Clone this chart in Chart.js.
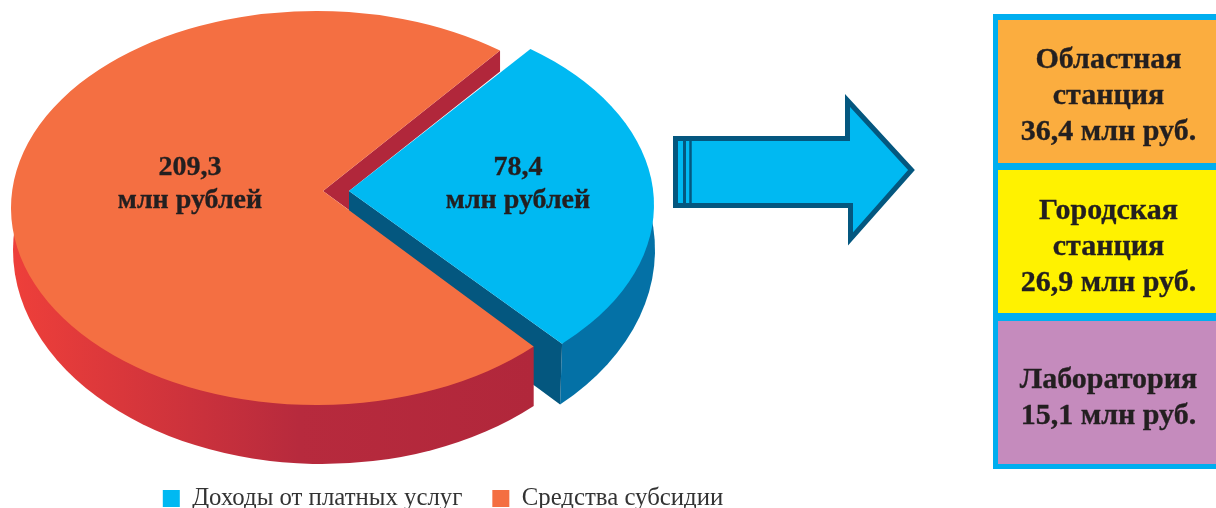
<!DOCTYPE html>
<html lang="ru">
<head>
<meta charset="utf-8">
<script src="https://cdn.jsdelivr.net/npm/chart.js@4"></script>
<style>
html,body{margin:0;padding:0;background:#fff;width:1216px;height:508px;overflow:hidden}
#pie{position:absolute;left:0;top:0}
#arrow{position:absolute;left:0;top:0}
.frame{position:absolute;left:993px;top:14px;width:240px;height:455px;background:#00aeef}
.cell{position:absolute;left:998px;width:222px}
.line{position:absolute;left:980px;width:257px;text-align:center;font:bold 30px "Liberation Serif",serif;color:#231f20;-webkit-text-stroke:.35px #231f20;line-height:36px;height:36px;white-space:nowrap}
</style>
</head>
<body>
<div style="position:absolute;left:0;top:0;width:886px;height:508px"><canvas id="pie" width="886" height="508"></canvas></div>
<svg id="arrow" width="1216" height="508">
<polygon points="675.5,138.5 847.5,138.5 847.5,100.5 911.5,170 850.5,239 850.5,205.5 675.5,205.5" fill="#00b9f2" stroke="#04577f" stroke-width="5"/>
<line x1="684.5" y1="138" x2="684.5" y2="206" stroke="#04577f" stroke-width="3"/>
<line x1="690.5" y1="138" x2="690.5" y2="206" stroke="#04577f" stroke-width="2.5"/>
</svg>
<div class="frame"></div>
<div class="cell" style="top:20px;height:143px;background:#fbad3f"></div>
<div class="cell" style="top:170px;height:143px;background:#fff200"></div>
<div class="cell" style="top:321px;height:143px;background:#c58bbd"></div>
<div id="lines"></div>
<script>
const categories = ['Доходы от платных услуг', 'Средства субсидии'];
const values = [78.4, 209.3];
const sliceColors = ['#00b9f2', '#f46f42'];
const unitLabel = 'млн рублей';
const stationNames = [['Областная', 'станция'], ['Городская', 'станция'], ['Лаборатория']];
const stationValues = ['36,4 млн руб.', '26,9 млн руб.', '15,1 млн руб.'];
const stationLineTops = [[40, 76, 112], [191, 227, 263], [360, 396]];

const host = document.getElementById('lines');
stationNames.forEach((names, i) => {
  names.concat(stationValues[i]).forEach((t, j) => {
    const d = document.createElement('div');
    d.className = 'line';
    d.style.top = stationLineTops[i][j] + 'px';
    d.textContent = t;
    host.appendChild(d);
  });
});

/* projection of the flat pie onto the tilted disc */
const blueTop = {cx:341, cy:205, rx:313, ry:196, a:-0.077, ax:349, ay:191};
const orangeTop = {cx:316.5, cy:208, rx:305.5, ry:197, a:-0.086, ax:323, ay:191};
const blueBase = {cx:347, cy:250, rx:308, ry:214};
const orangeBase = {cx:322, cy:250, rx:309, ry:214};
function proj(e, t) {
  const s = Math.sin(t), c = Math.cos(t), d = 1 + e.a * s;
  const x = c * Math.sqrt(1 - e.a * e.a) / d, y = (s + e.a) / d;
  return {ang: Math.atan2(y, x), x: e.cx + x * e.rx, y: e.cy + y * e.ry};
}
function face(ctx, e, a0, a1, col) {
  const p = proj(e, a0), q = proj(e, a1);
  let end = q.ang;
  while (end < p.ang) end += Math.PI * 2;
  ctx.beginPath();
  ctx.moveTo(e.ax, e.ay);
  ctx.lineTo(p.x, p.y);
  ctx.ellipse(e.cx, e.cy, e.rx, e.ry, 0, p.ang, end, false);
  ctx.closePath();
  ctx.fillStyle = col;
  ctx.fill();
}
function baseAngle(b, x) { return Math.acos((x - b.cx) / b.rx); }

const tilted = {
  id: 'tilted',
  beforeDatasetsDraw(chart) {
    const ctx = chart.ctx;
    const arcs = chart.getDatasetMeta(0).data;
    const blue = arcs[0], orange = arcs[1];
    const be = proj(blueTop, blue.endAngle);
    const os = proj(orangeTop, orange.startAngle), oe = proj(orangeTop, orange.endAngle);
    ctx.save();
    /* inner red wall */
    ctx.fillStyle = '#b1273b';
    ctx.beginPath();
    ctx.moveTo(orangeTop.ax, orangeTop.ay);
    ctx.lineTo(oe.x, oe.y);
    ctx.lineTo(oe.x, oe.y + 21);
    ctx.lineTo(blueTop.ax, blueTop.ay);
    ctx.lineTo(blueTop.ax, blueTop.ay + 19);
    ctx.closePath();
    ctx.fill();
    /* blue outer wall */
    const bx = be.x - 2;
    const ba = baseAngle(blueBase, bx);
    ctx.fillStyle = '#0471a6';
    ctx.beginPath();
    ctx.ellipse(blueBase.cx, blueBase.cy, blueBase.rx, blueBase.ry, 0, -0.17, ba, false);
    ctx.lineTo(be.x, be.y);
    ctx.closePath();
    ctx.fill();
    /* blue inner wall */
    const by = blueBase.cy + blueBase.ry * Math.sin(ba);
    ctx.fillStyle = '#04577f';
    ctx.beginPath();
    ctx.moveTo(blueTop.ax, blueTop.ay);
    ctx.lineTo(be.x, be.y);
    ctx.lineTo(bx, by);
    ctx.lineTo(bx - 23, by - 17);
    ctx.lineTo(blueTop.ax, blueTop.ay + 60);
    ctx.closePath();
    ctx.fill();
    face(ctx, blueTop, blue.startAngle, blue.endAngle, blue.options.backgroundColor);
    /* orange outer wall */
    const oa = baseAngle(orangeBase, os.x);
    const g = ctx.createLinearGradient(13, 0, 533, 0);
    g.addColorStop(0, '#ee3f3a');
    g.addColorStop(0.55, '#b72a3d');
    g.addColorStop(1, '#b1273b');
    ctx.fillStyle = g;
    ctx.beginPath();
    ctx.ellipse(orangeBase.cx, orangeBase.cy, orangeBase.rx, orangeBase.ry, 0, oa, Math.PI + 0.1, false);
    ctx.lineTo(os.x, os.y);
    ctx.closePath();
    ctx.fill();
    face(ctx, orangeTop, orange.startAngle, orange.endAngle, orange.options.backgroundColor);
    /* slice labels */
    ctx.fillStyle = '#231f20';
    ctx.strokeStyle = '#231f20';
    ctx.lineWidth = 0.35;
    ctx.textAlign = 'center';
    ctx.textBaseline = 'middle';
    ctx.font = 'bold 28px "Liberation Serif", serif';
    [[518, 0], [190, 1]].forEach(([x, i]) => {
      const top = String(values[i]).replace('.', ',');
      ctx.fillText(top, x, 168);
      ctx.strokeText(top, x, 168);
      ctx.fillText(unitLabel, x, 201);
      ctx.strokeText(unitLabel, x, 201);
    });
    ctx.restore();
    return false;
  }
};

new Chart(document.getElementById('pie'), {
  type: 'pie',
  data: {labels: categories, datasets: [{data: values, backgroundColor: sliceColors, borderWidth: 0}]},
  options: {
    responsive: false,
    animation: false,
    rotation: 40,
    layout: {padding: {bottom: -13}},
    plugins: {
      tooltip: {enabled: false},
      legend: {
        position: 'bottom',
        labels: {
          boxWidth: 17, boxHeight: 17, padding: 30, color: '#333333',
          font: {family: '"Liberation Serif", serif', size: 24.8}
        }
      }
    }
  },
  plugins: [tilted]
});
</script>
</body>
</html>
